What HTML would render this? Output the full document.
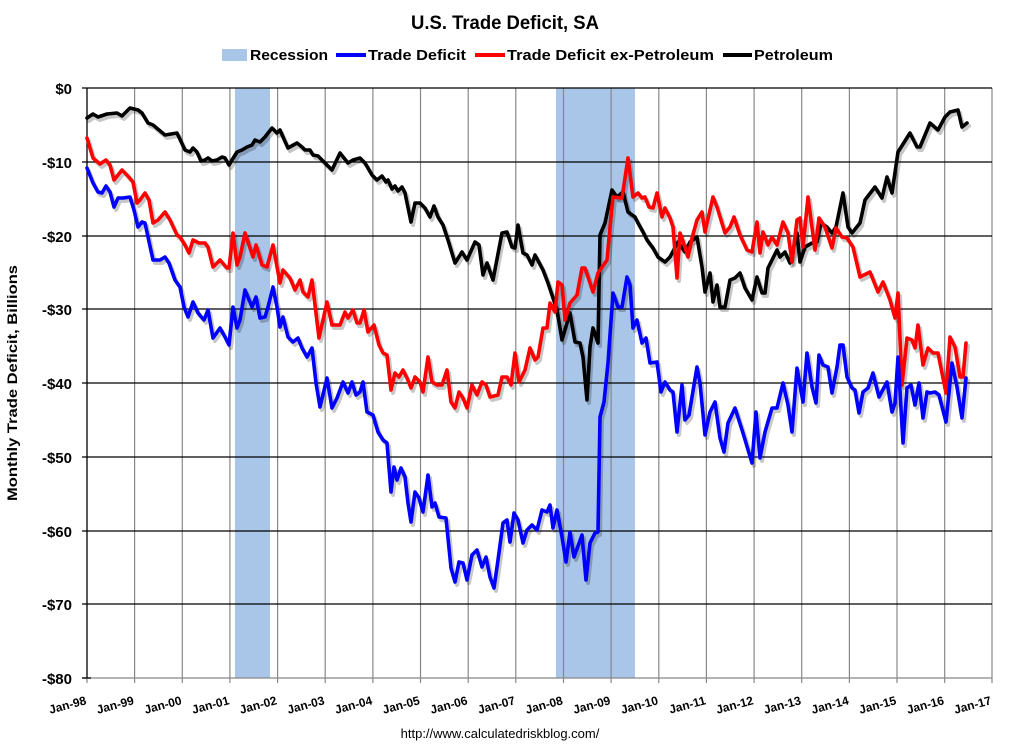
<!DOCTYPE html>
<html><head><meta charset="utf-8"><style>
html,body{margin:0;padding:0;background:#fff;}
svg{display:block;font-family:"Liberation Sans",sans-serif;}
</style></head><body>
<svg width="1013" height="746" viewBox="0 0 1013 746" xmlns="http://www.w3.org/2000/svg">
<rect width="1013" height="746" fill="#fff"/>
<text x="505" y="29" font-size="19" font-weight="bold" text-anchor="middle" textLength="188" lengthAdjust="spacingAndGlyphs">U.S. Trade Deficit, SA</text>
<g font-size="15" font-weight="bold">
<rect x="222" y="49" width="25" height="12" fill="#a9c5e8"/>
<text x="250" y="60" textLength="78" lengthAdjust="spacingAndGlyphs">Recession</text>
<line x1="336" y1="55" x2="366" y2="55" stroke="#0000ff" stroke-width="4"/>
<text x="368" y="60" textLength="98" lengthAdjust="spacingAndGlyphs">Trade Deficit</text>
<line x1="475" y1="55" x2="505" y2="55" stroke="#ff0000" stroke-width="4"/>
<text x="507" y="60" textLength="207" lengthAdjust="spacingAndGlyphs">Trade Deficit ex-Petroleum</text>
<line x1="723" y1="55" x2="752" y2="55" stroke="#000" stroke-width="4"/>
<text x="754" y="60" textLength="79" lengthAdjust="spacingAndGlyphs">Petroleum</text>
</g>
<!-- recessions -->
<rect x="235" y="88" width="35" height="590" fill="#a9c5e8"/>
<rect x="556" y="88" width="79" height="590" fill="#a9c5e8"/>
<!-- vertical grid -->
<g stroke="#888" stroke-width="1.2">
<line x1="134.6" y1="88" x2="134.6" y2="683"/><line x1="182.3" y1="88" x2="182.3" y2="683"/>
<line x1="229.9" y1="88" x2="229.9" y2="683"/><line x1="277.6" y1="88" x2="277.6" y2="683"/>
<line x1="325.2" y1="88" x2="325.2" y2="683"/><line x1="372.9" y1="88" x2="372.9" y2="683"/>
<line x1="420.5" y1="88" x2="420.5" y2="683"/><line x1="468.2" y1="88" x2="468.2" y2="683"/>
<line x1="515.8" y1="88" x2="515.8" y2="683"/><line x1="563.5" y1="88" x2="563.5" y2="683"/>
<line x1="611.1" y1="88" x2="611.1" y2="683"/><line x1="658.8" y1="88" x2="658.8" y2="683"/>
<line x1="706.4" y1="88" x2="706.4" y2="683"/><line x1="754.1" y1="88" x2="754.1" y2="683"/>
<line x1="801.7" y1="88" x2="801.7" y2="683"/><line x1="849.4" y1="88" x2="849.4" y2="683"/>
<line x1="897" y1="88" x2="897" y2="683"/><line x1="944.7" y1="88" x2="944.7" y2="683"/>
<line x1="992" y1="88" x2="992" y2="683"/><line x1="87" y1="678" x2="87" y2="683"/>
</g>
<!-- horizontal grid -->
<g stroke="#000" stroke-width="1.3">
<line x1="82" y1="88" x2="992" y2="88"/><line x1="82" y1="162" x2="992" y2="162"/>
<line x1="82" y1="236" x2="992" y2="236"/><line x1="82" y1="309" x2="992" y2="309"/>
<line x1="82" y1="383" x2="992" y2="383"/><line x1="82" y1="457" x2="992" y2="457"/>
<line x1="82" y1="531" x2="992" y2="531"/><line x1="82" y1="604" x2="992" y2="604"/>
<line x1="87" y1="88" x2="87" y2="678"/>
</g>
<line x1="82" y1="678" x2="992" y2="678" stroke="#888" stroke-width="1.3"/>
<line x1="82" y1="678" x2="91" y2="678" stroke="#000" stroke-width="1.3"/>
<!-- y labels -->
<g font-size="15" font-weight="bold" text-anchor="end">
<text x="72" y="94">$0</text><text x="72" y="168">-$10</text><text x="72" y="242">-$20</text>
<text x="72" y="315">-$30</text><text x="72" y="389">-$40</text><text x="72" y="463">-$50</text>
<text x="72" y="537">-$60</text><text x="72" y="610">-$70</text><text x="72" y="684">-$80</text>
</g>
<text transform="translate(17,383) rotate(-90)" font-size="14" font-weight="bold" text-anchor="middle" textLength="236" lengthAdjust="spacingAndGlyphs">Monthly Trade Deficit, Billions</text>
<!-- x labels -->
<g font-size="12" font-weight="bold" text-anchor="end">
<text transform="translate(87,704) rotate(-15)">Jan-98</text>
<text transform="translate(134.6,704) rotate(-15)">Jan-99</text>
<text transform="translate(182.3,704) rotate(-15)">Jan-00</text>
<text transform="translate(229.9,704) rotate(-15)">Jan-01</text>
<text transform="translate(277.6,704) rotate(-15)">Jan-02</text>
<text transform="translate(325.2,704) rotate(-15)">Jan-03</text>
<text transform="translate(372.9,704) rotate(-15)">Jan-04</text>
<text transform="translate(420.5,704) rotate(-15)">Jan-05</text>
<text transform="translate(468.2,704) rotate(-15)">Jan-06</text>
<text transform="translate(515.8,704) rotate(-15)">Jan-07</text>
<text transform="translate(563.5,704) rotate(-15)">Jan-08</text>
<text transform="translate(611.1,704) rotate(-15)">Jan-09</text>
<text transform="translate(658.8,704) rotate(-15)">Jan-10</text>
<text transform="translate(706.4,704) rotate(-15)">Jan-11</text>
<text transform="translate(754.1,704) rotate(-15)">Jan-12</text>
<text transform="translate(801.7,704) rotate(-15)">Jan-13</text>
<text transform="translate(849.4,704) rotate(-15)">Jan-14</text>
<text transform="translate(897,704) rotate(-15)">Jan-15</text>
<text transform="translate(944.7,704) rotate(-15)">Jan-16</text>
<text transform="translate(992,704) rotate(-15)">Jan-17</text>
</g>
<text x="500" y="738" font-size="13" text-anchor="middle">http://www.calculatedriskblog.com/</text>
<defs>
<polyline id="blk" points="87,118 93,114 98,117 107,114 117,113 122,116 130,108 138,110 142,113 148,123 153,125 165,135 177,133 185,150 190,152 193,148 197,152 201,161 205,160 208,158 212,161 217,160 222,157 225,158 229,165 237,152 242,150 247,147 252,145 255,140 260,142 265,137 272,128 277,133 280,130 283,137 288,148 297,143 302,147 305,150 310,150 313,155 318,156 325,163 332,170 340,153 348,163 353,160 360,158 365,163 372,175 377,180 382,176 386,182 388,180 392,189 395,186 398,191 402,187 405,193 411,222 415,203 420,203 425,208 430,217 434,206 438,217 443,225 448,240 455,263 462,252 467,260 475,242 479,245 483,275 487,263 493,280 502,233 507,232 512,247 515,248 518,225 523,253 527,255 532,265 535,255 543,270 548,283 557,310 562,340 570,313 575,342 580,343 583,357 587,400 590,347 593,328 598,343 600,235 605,223 612,190 617,197 623,192 628,212 635,217 638,223 643,232 647,240 653,248 658,257 665,262 670,257 678,242 685,252 690,242 697,237 702,267 705,292 710,273 713,302 717,285 720,307 725,307 730,280 735,278 740,273 745,288 752,300 757,277 762,293 765,293 768,268 777,250 780,257 785,252 790,263 797,233 800,262 805,247 812,243 817,242 821,223 827,227 832,233 836,227 843,193 848,227 852,233 860,223 865,200 875,187 882,198 887,177 892,193 898,152 910,133 917,147 920,147 930,123 938,130 945,117 950,112 958,110 962,127 967,123"/>
<polyline id="red" points="87,138 93,158 100,164 106,160 110,165 114,180 122,170 128,176 133,182 137,203 140,200 145,193 149,200 153,223 158,220 165,212 170,220 177,235 180,237 185,245 189,253 193,240 199,243 205,243 208,247 213,267 220,260 227,268 229,268 233,233 237,265 240,257 245,233 253,257 256,245 262,265 267,267 273,245 280,283 283,270 290,278 295,290 300,280 303,292 308,297 312,280 319,338 327,302 332,325 340,325 345,312 348,318 353,310 357,323 360,323 364,310 368,332 374,325 379,345 383,353 387,355 391,390 395,373 399,377 403,370 407,378 411,388 415,377 420,382 423,392 428,357 432,382 437,385 442,385 447,370 451,402 455,408 459,392 463,398 467,408 472,385 477,395 482,382 486,385 490,397 498,395 502,377 507,377 511,385 515,353 519,382 525,370 530,348 535,360 538,357 543,328 547,328 550,303 555,312 558,282 562,285 565,320 570,303 577,295 582,268 585,268 593,292 598,273 607,260 610,227 613,197 622,198 628,158 633,197 638,193 642,198 645,197 649,207 653,208 657,193 662,217 665,208 670,218 673,227 677,278 680,233 685,247 688,257 692,238 697,220 702,212 705,232 713,197 717,207 725,233 730,227 734,217 740,235 747,250 752,252 757,222 760,253 763,232 768,245 772,237 777,245 783,222 788,233 792,262 797,220 800,218 803,247 808,197 815,250 819,218 825,227 832,248 836,228 842,237 847,238 853,247 860,277 870,272 878,292 883,282 890,300 895,318 898,293 902,385 907,338 912,340 915,348 918,325 923,365 928,348 933,353 938,353 946,393 950,337 955,347 960,377 963,377 966,343"/>
<polyline id="blu" points="87,168 93,183 98,192 102,193 106,186 110,192 114,207 118,198 123,198 130,197 134,210 138,227 142,222 145,223 148,237 153,260 160,260 165,257 169,263 175,280 180,287 184,307 188,317 193,302 198,313 204,320 208,310 213,338 220,328 225,337 229,345 233,307 237,328 240,320 245,290 252,307 256,297 260,318 265,317 268,307 273,287 277,307 280,327 283,317 288,337 293,342 298,338 302,348 307,357 312,348 316,383 320,407 327,378 332,408 337,398 343,382 348,393 352,382 356,395 360,392 363,382 367,412 373,415 378,432 383,440 387,443 391,492 394,467 397,480 401,468 405,477 408,503 411,522 415,492 419,498 423,512 428,475 432,507 435,503 439,517 446,518 451,568 455,582 459,562 463,563 467,580 472,555 477,550 482,567 486,557 490,577 494,588 498,560 503,523 507,520 510,542 514,513 518,520 523,543 527,530 532,525 537,530 542,510 547,512 550,505 553,528 557,510 562,537 566,562 570,532 574,557 582,535 586,580 590,543 595,533 598,532 600,417 604,402 608,363 613,293 618,307 622,307 627,277 630,285 633,328 637,320 642,343 646,338 650,363 657,362 661,392 665,382 670,390 673,392 677,432 682,385 685,420 689,415 697,367 700,383 705,435 710,412 715,402 720,438 724,452 728,423 735,408 743,433 752,463 756,412 760,458 765,432 772,408 777,408 783,383 788,405 792,432 797,368 803,402 807,353 812,387 816,403 819,355 823,365 828,367 832,393 837,367 840,345 843,345 847,377 852,388 855,390 859,413 863,392 868,388 873,373 879,397 887,382 892,412 895,403 898,357 903,443 907,388 911,385 915,405 919,383 923,418 927,392 930,393 935,392 939,395 946,422 952,363 957,387 962,418 966,378"/>
</defs>
<g fill="none" stroke-linejoin="round" stroke-linecap="round">
<g stroke="#000" stroke-opacity="0.22" stroke-width="4" transform="translate(2,3)">
<use href="#blk"/><use href="#red"/><use href="#blu"/>
</g>
<use href="#blk" stroke="#000" stroke-width="3.6"/>
<use href="#red" stroke="#ff0000" stroke-width="3.6"/>
<use href="#blu" stroke="#0000ff" stroke-width="3.6"/>
</g>
</svg>
</body></html>
